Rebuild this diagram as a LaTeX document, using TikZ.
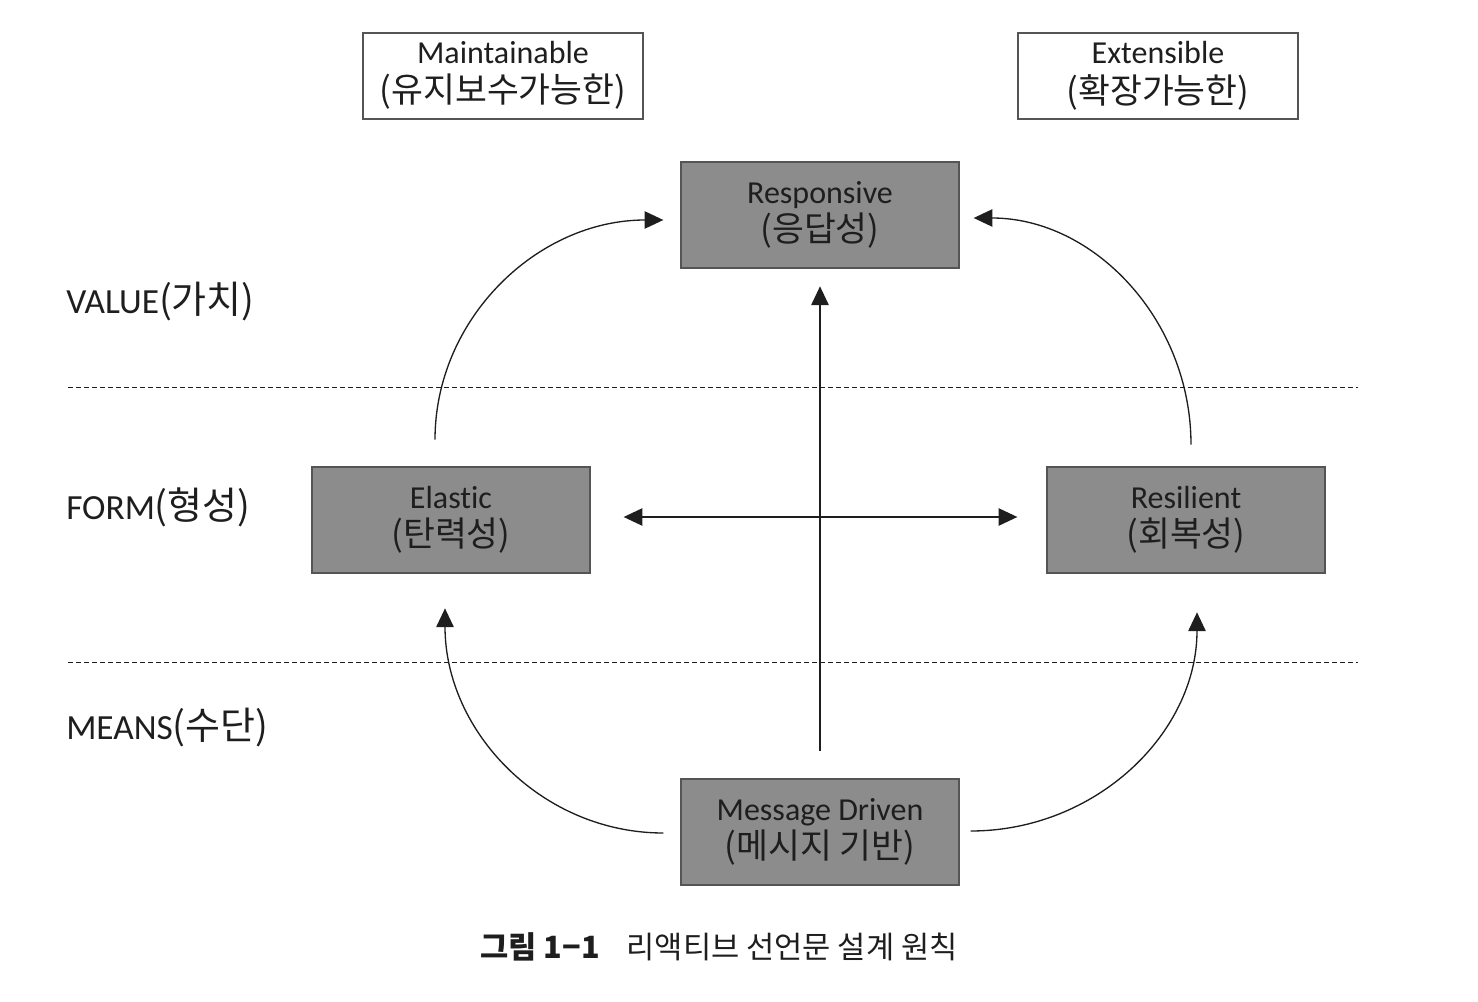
\documentclass[tikz,border=0pt]{standalone}
\usepackage{fontspec}
\setmainfont{Carlito}[Ligatures=NoCommon]
\newfontfamily\kr{Noto Sans CJK KR}
\newcommand{\krb}[1]{{\kr\fontsize{26pt}{28pt}\selectfont #1}}
\newcommand{\krl}[1]{{\kr\fontsize{28.5pt}{30pt}\selectfont #1}}
\usetikzlibrary{arrows.meta,calc}
\definecolor{boxgray}{HTML}{8C8C8C}
\definecolor{boxline}{HTML}{555555}
\definecolor{ink}{HTML}{1E1E1E}
\begin{document}
\begin{tikzpicture}[x=0.75pt,y=-0.75pt,
  txt/.style={font=\fontsize{24pt}{27pt}\selectfont, text=ink, align=center},
  topbox/.style={txt, draw=boxline, line width=1.5pt, fill=white, minimum width=210pt, minimum height=64pt, inner sep=0pt},
  graybox/.style={txt, draw=boxline, line width=1.5pt, fill=boxgray, minimum width=208pt, minimum height=80pt, inner sep=0pt},
  lvl/.style={font=\fontsize{26.5pt}{30pt}\selectfont, text=ink, anchor=west, inner sep=0pt},
  sep/.style={draw=ink, line width=0.6pt, dash pattern=on 4pt off 2pt},
  conn/.style={draw=ink, line width=1pt, -{Triangle[length=14pt,width=13pt]}},
]
\useasboundingbox (0,0) rectangle (1478,1002);

% boxes
\node[topbox] (maint) at (503,76) {\raisebox{-3pt}{\begin{tabular}{@{}c@{}}Maintainable\\[0pt]\krb{(유지보수가능한)}\end{tabular}}};
\node[topbox] (ext) at (1158,76) {\raisebox{-3pt}{\begin{tabular}{@{}c@{}}Extensible\\[0pt]\krb{(확장가능한)}\end{tabular}}};
\node[graybox] (resp) at (820,215) {\raisebox{5pt}{\begin{tabular}{@{}c@{}}Responsive\\[-1pt]\krb{(응답성)}\end{tabular}}};
\node[graybox] (elas) at (451,520) {\raisebox{5pt}{\begin{tabular}{@{}c@{}}Elastic\\[-1pt]\krb{(탄력성)}\end{tabular}}};
\node[graybox] (resil) at (1186,520) {\raisebox{5pt}{\begin{tabular}{@{}c@{}}Resilient\\[-1pt]\krb{(회복성)}\end{tabular}}};
\node[graybox] (msg) at (820,832) {\raisebox{5pt}{\begin{tabular}{@{}c@{}}Message Driven\\[-1pt]\krb{(메시지 기반)}\end{tabular}}};

% level labels
\node[lvl] (value) at (66,302) {VALUE\krl{(가치)}};
\node[lvl] (form) at (66,507) {FORM\krl{(형성)}};
\node[lvl] (means) at (66,728) {MEANS\krl{(수단)}};

% dashed separators
\coordinate (d1a) at (68,387); \coordinate (d1b) at (1358,387);
\coordinate (d2a) at (68,662); \coordinate (d2b) at (1358,662);
\draw[sep] (d1a) -- (d1b);
\draw[sep] (d2a) -- (d2b);

% connector end points
\coordinate (vS) at ($(msg.north)+(0,-27)$);
\coordinate (vE) at ($(resp.south)+(0,17)$);
\coordinate (hL) at ($(elas.east)+(33,-3)$);
\coordinate (hR) at ($(resil.west)+(-29,-3)$);
\coordinate (eS) at ($(elas.north)+(-16,-26)$);
\coordinate (rL) at ($(resp.west)+(-17,5)$);
\coordinate (sS) at ($(resil.north)+(5,-21)$);
\coordinate (rR) at ($(resp.east)+(14,3)$);
\coordinate (mL) at ($(msg.west)+(-17,1)$);
\coordinate (eB) at ($(elas.south)+(-6,34)$);
\coordinate (mR) at ($(msg.east)+(11,-1)$);
\coordinate (sB) at ($(resil.south)+(11,38)$);

% connectors
\draw[conn] (vS) -- (vE);
\draw[conn, {Triangle[length=14pt,width=13pt]}-{Triangle[length=14pt,width=13pt]}] (hL) -- (hR);
\draw[conn] (eS) .. controls ($(eS)+(0,-121)$) and ($(rL)+(-126,0)$) .. (rL);
\draw[conn] (sS) .. controls ($(sS)+(0,-125)$) and ($(rR)+(120,0)$) .. (rR);
\draw[conn] (mL) .. controls ($(mL)+(-121,0)$) and ($(eB)+(0,124)$) .. (eB);
\draw[conn] (mR) .. controls ($(mR)+(125,0)$) and ($(sB)+(0,121)$) .. (sB);

% caption
\node[font=\fontsize{23pt}{27pt}\selectfont\kr, text=ink, inner sep=0pt] (cap) at (719,947) {\textbf{그림 1−1}\hspace{20pt}리액티브 선언문 설계 원칙};
\end{tikzpicture}
\end{document}
